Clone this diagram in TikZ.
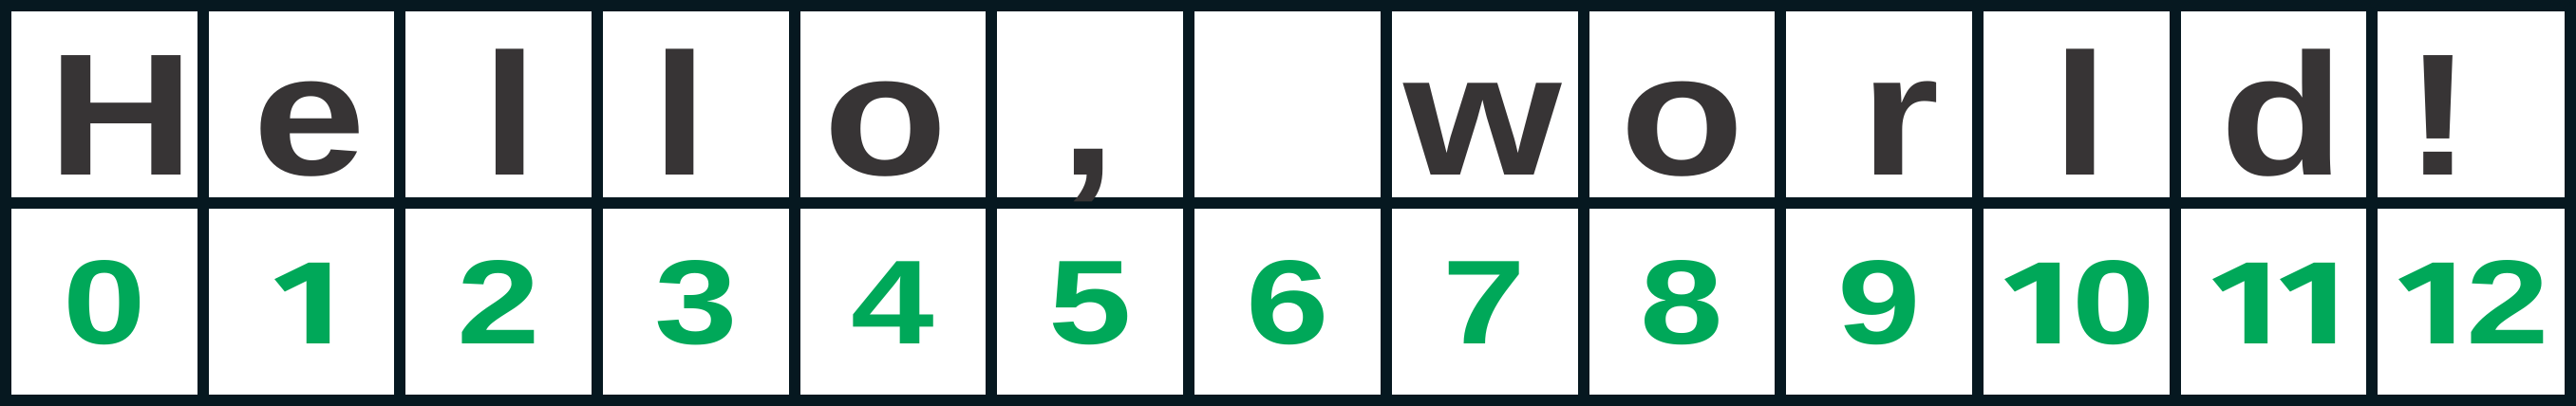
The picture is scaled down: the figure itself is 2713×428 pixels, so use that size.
\documentclass[tikz,border=0pt]{standalone}
\usepackage{fontspec}
\setmainfont{Liberation Sans}
\newfontfamily\onefont{Fira Sans}
\definecolor{gridc}{HTML}{061820}
\definecolor{letc}{HTML}{373435}
\definecolor{numc}{HTML}{00A859}
\newcommand{\sx}[1]{\scalebox{1.17}[1]{#1}}
\newcommand{\sd}[1]{\scalebox{1.25}[1]{#1}}
\newcommand{\one}{{\onefont\bfseries 1}}
\begin{document}
\begin{tikzpicture}[x=0.3pt,y=-0.3pt,
  gridline/.style={draw=gridc,line width=3.6pt},
  letter/.style={anchor=base,inner sep=0pt,text=letc,font=\fontsize{54.9}{60}\selectfont\bfseries},
  num/.style={anchor=base,inner sep=0pt,text=numc,font=\fontsize{37.8}{42}\selectfont\bfseries}]
\useasboundingbox (0,0) rectangle (2713,428);
\fill[white] (0,0) rectangle (2713,428);
\draw[gridline] (0,214) -- (2713,214);
\foreach \i in {1,...,12} \draw[gridline] ({6+207.69*\i},0) -- ({6+207.69*\i},428);
\draw[gridline] (6,6) rectangle (2707,422);
% letters
\node[letter] (c0) at (128,185) {\sx{H}};
\node[letter] (c1) at (326,185) {\sx{e}};
\node[letter] (c2) at (537,185) {\sx{l}};
\node[letter] (c3) at (716.5,185) {\sx{l}};
\node[letter] (c4) at (932.5,185) {\sx{o}};
\node[letter] (c5) at (1146,185) {\sx{,}};
\node[letter] (c7) at (1562,185) {\sx{w}};
\node[letter] (c8) at (1771.5,185) {\sx{o}};
\node[letter] (c9) at (2001,185) {\sx{r}};
\node[letter] (c10) at (2191.5,185) {\sx{l}};
\node[letter] (c11) at (2404,185) {\sx{d}};
\node[letter] (c12) at (2568,185) {\sx{!}};
% indices
\foreach \i/\t/\dx in {0/0/0,1/\one/6,2/2/0,3/3/0,4/4/0,5/5/0,6/6/0,7/7/0,8/8/0,9/9/0,10/\one0/3,11/\one\one/6,12/\one2/3}
  \node[num] (n\i) at ({6+207.69*\i+103.85+\dx},363) {\sd{\t}};
\end{tikzpicture}
\end{document}
